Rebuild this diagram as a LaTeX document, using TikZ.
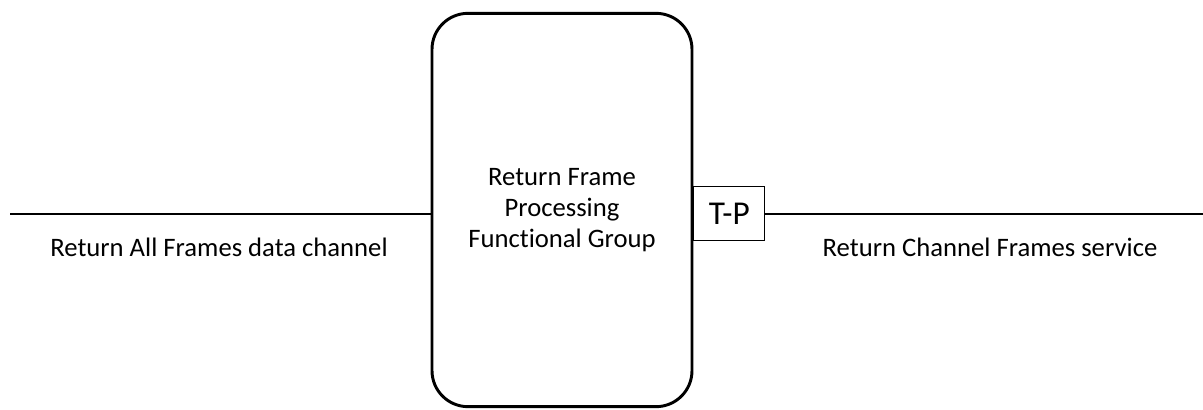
\documentclass[tikz,border=0pt]{standalone}
\usepackage{fontspec}
\setmainfont{Carlito}[Ligatures=NoCommon]
\usetikzlibrary{positioning}

\begin{document}
\begin{tikzpicture}[x=0.75pt,y=-0.75pt,
    every node/.style={font=\fontsize{20}{23.5}\selectfont},
    group/.style={draw, line width=2.2pt, rounded corners=27pt, minimum width=195pt, minimum height=295pt, align=center},
    port/.style={draw, line width=0.75pt, minimum width=53pt, minimum height=41pt, inner sep=0pt, font=\fontsize{25}{30}\selectfont},
    link/.style={line width=1.5pt}]
   \useasboundingbox (0,0) rectangle (1203,410);
   \node[group] (rfp) at (562,210) {Return Frame\\Processing\\Functional Group};
   \node[port,anchor=west] (tp) at (rfp.east |- 0,213.5) {T-P};
   \coordinate (src) at (10,214);
   \coordinate (dst) at (1203,214);
   \node (srclbl) at (219,247) {Return All Frames data channel};
   \node (dstlbl) at (990,247) {Return Channel Frames service};
   \draw[link] (src) -- (src -| rfp.west);
   \draw[link] (tp.east |- dst) -- (dst);
\end{tikzpicture}
\end{document}
